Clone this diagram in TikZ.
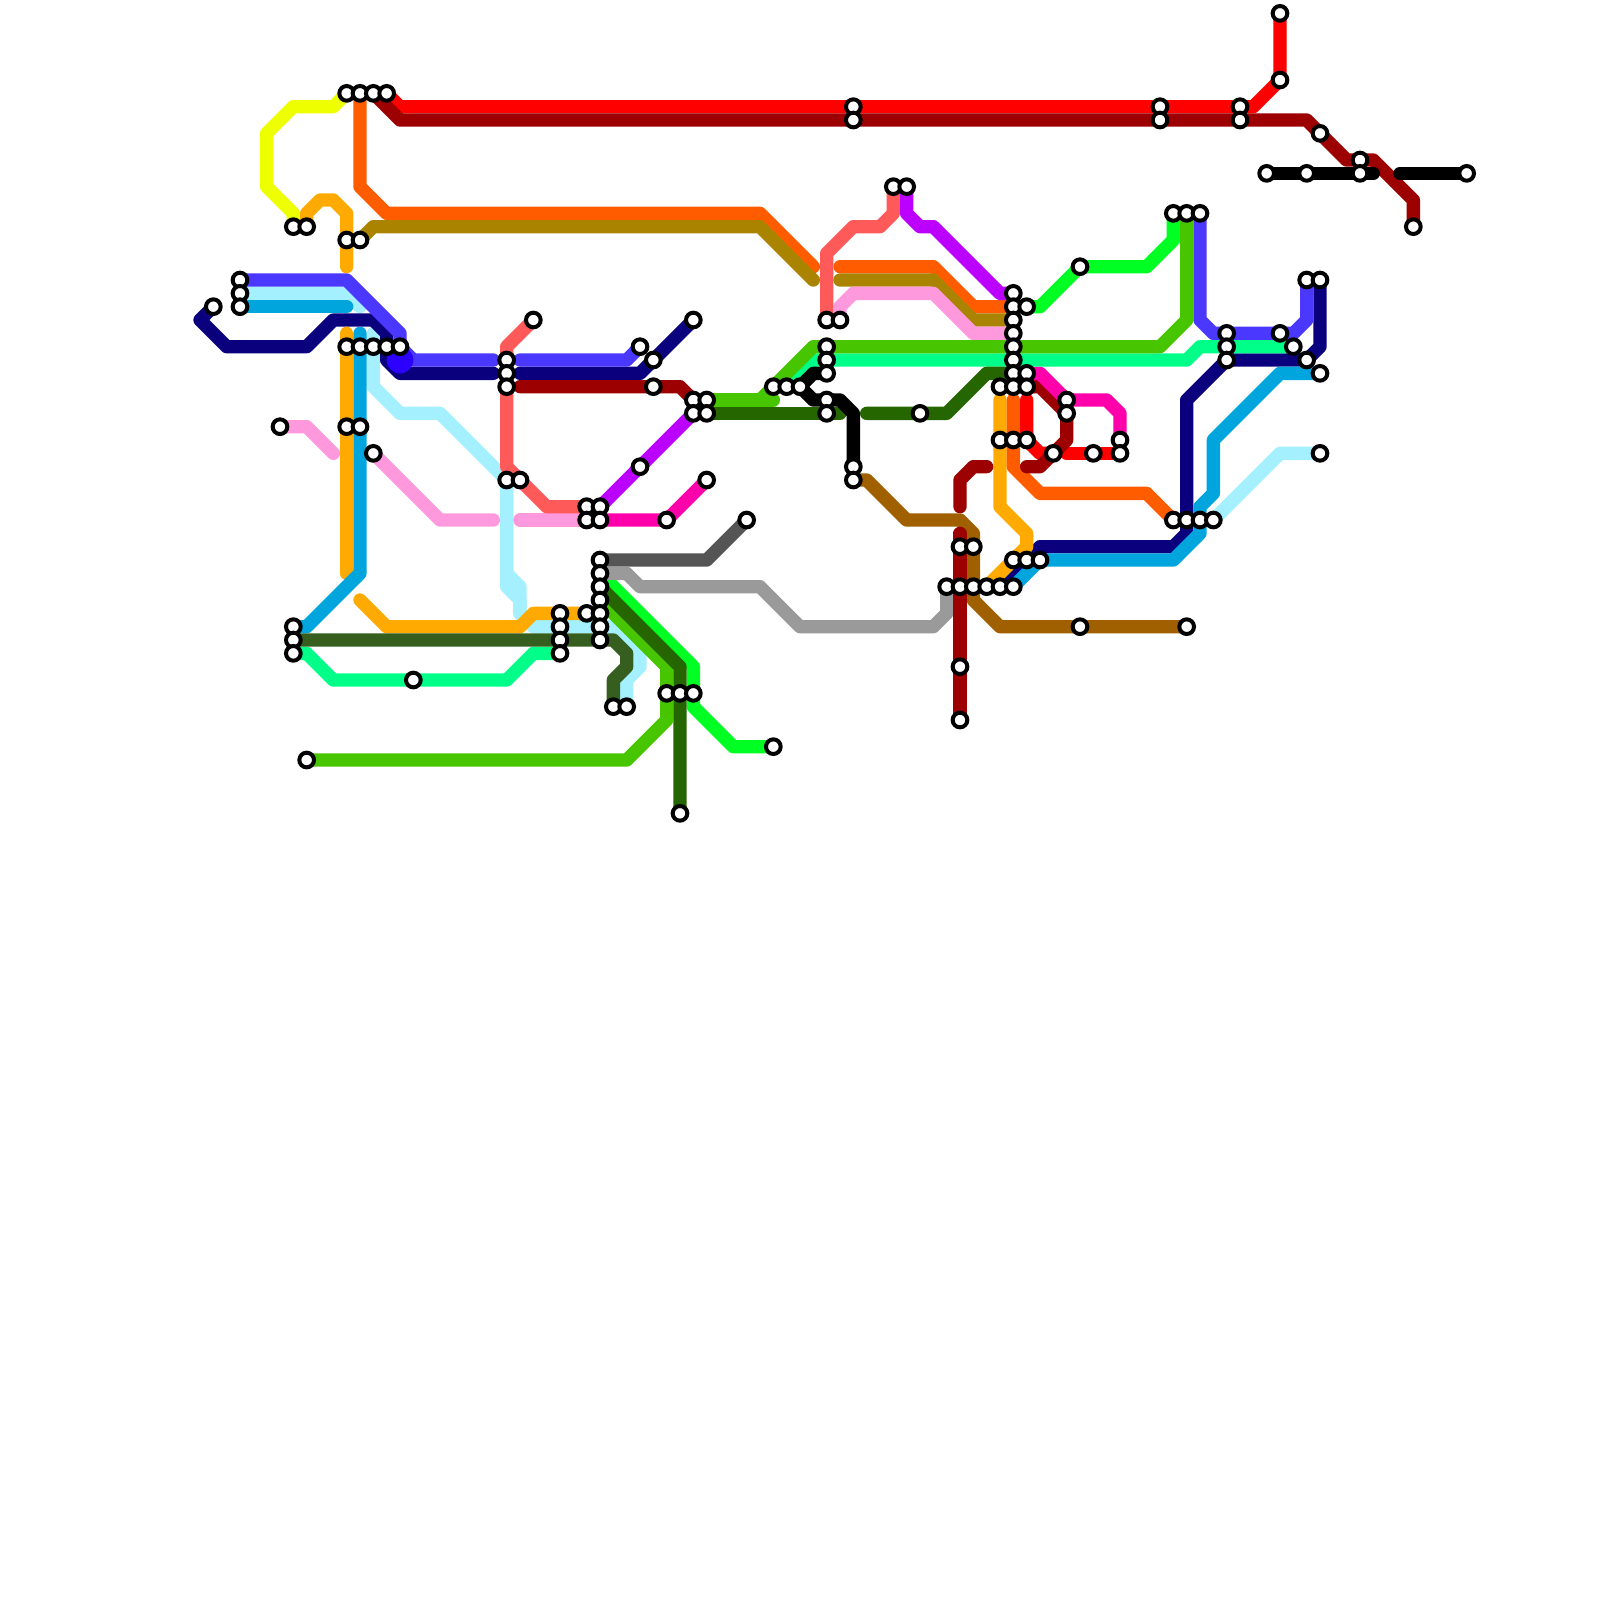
\documentclass[tikz,border=0pt]{standalone}
\usepackage{xcolor}
\usetikzlibrary{backgrounds}
\definecolor{lemon}{HTML}{EEFF00}
\definecolor{amber}{HTML}{FFAA00}
\definecolor{tangerine}{HTML}{FF5C00}
\definecolor{olivebrown}{HTML}{AA8400}
\definecolor{signalred}{HTML}{FF0000}
\definecolor{maroon}{HTML}{9C0000}
\definecolor{indigo}{HTML}{4A38FF}
\definecolor{blobblue}{HTML}{2B00FF}
\definecolor{icecyan}{HTML}{A4F0FF}
\definecolor{skyblue}{HTML}{00A5DE}
\definecolor{navyblue}{HTML}{0A007E}
\definecolor{candy}{HTML}{FF99DD}
\definecolor{coral}{HTML}{FF5A5A}
\definecolor{grape}{HTML}{BB00FF}
\definecolor{fuchsia}{HTML}{FF00AA}
\definecolor{moss}{HTML}{365F1F}
\definecolor{spring}{HTML}{00FF88}
\definecolor{leaf}{HTML}{47C600}
\definecolor{forest}{HTML}{266600}
\definecolor{neon}{HTML}{00FF22}
\definecolor{ashdark}{HTML}{555555}
\definecolor{ash}{HTML}{9A9A9A}
\definecolor{umber}{HTML}{A06000}

\begin{document}
\begin{tikzpicture}[
  x=1mm,y=-1mm,
  stn/.style={circle,draw=black,fill=white,line width=0.3mm,minimum size=1.1mm,inner sep=0pt},
  ln/.style={line width=1mm,line cap=round,line join=round},
  lemonln/.style={ln,draw=lemon},
  amberln/.style={ln,draw=amber},
  tangln/.style={ln,draw=tangerine},
  oliveln/.style={ln,draw=olivebrown},
  redln/.style={ln,draw=signalred},
  maroonln/.style={ln,draw=maroon},
  indigoln/.style={ln,draw=indigo},
  iceln/.style={ln,draw=icecyan},
  skyln/.style={ln,draw=skyblue},
  navyln/.style={ln,draw=navyblue},
  candyln/.style={ln,draw=candy},
  coralln/.style={ln,draw=coral},
  grapeln/.style={ln,draw=grape},
  fuchln/.style={ln,draw=fuchsia},
  mossln/.style={ln,draw=moss},
  springln/.style={ln,draw=spring},
  leafln/.style={ln,draw=leaf},
  forestln/.style={ln,draw=forest},
  neonln/.style={ln,draw=neon},
  ashdln/.style={ln,draw=ashdark},
  ashln/.style={ln,draw=ash},
  umberln/.style={ln,draw=umber},
  blackln/.style={ln,draw=black}
]
\useasboundingbox (0,0) rectangle (120,120);
% stations
\node[stn] (s96y1) at (96,1) {};
\node[stn] (s96y6) at (96,6) {};
\node[stn] (s26y7) at (26,7) {};
\node[stn] (s27y7) at (27,7) {};
\node[stn] (s28y7) at (28,7) {};
\node[stn] (s29y7) at (29,7) {};
\node[stn] (s64y8) at (64,8) {};
\node[stn] (s87y8) at (87,8) {};
\node[stn] (s93y8) at (93,8) {};
\node[stn] (s64y9) at (64,9) {};
\node[stn] (s87y9) at (87,9) {};
\node[stn] (s93y9) at (93,9) {};
\node[stn] (s99y10) at (99,10) {};
\node[stn] (s102y12) at (102,12) {};
\node[stn] (s95y13) at (95,13) {};
\node[stn] (s98y13) at (98,13) {};
\node[stn] (s102y13) at (102,13) {};
\node[stn] (s110y13) at (110,13) {};
\node[stn] (s67y14) at (67,14) {};
\node[stn] (s68y14) at (68,14) {};
\node[stn] (s88y16) at (88,16) {};
\node[stn] (s89y16) at (89,16) {};
\node[stn] (s90y16) at (90,16) {};
\node[stn] (s22y17) at (22,17) {};
\node[stn] (s23y17) at (23,17) {};
\node[stn] (s106y17) at (106,17) {};
\node[stn] (s26y18) at (26,18) {};
\node[stn] (s27y18) at (27,18) {};
\node[stn] (s81y20) at (81,20) {};
\node[stn] (s18y21) at (18,21) {};
\node[stn] (s98y21) at (98,21) {};
\node[stn] (s99y21) at (99,21) {};
\node[stn] (s18y22) at (18,22) {};
\node[stn] (s76y22) at (76,22) {};
\node[stn] (s16y23) at (16,23) {};
\node[stn] (s18y23) at (18,23) {};
\node[stn] (s76y23) at (76,23) {};
\node[stn] (s77y23) at (77,23) {};
\node[stn] (s40y24) at (40,24) {};
\node[stn] (s52y24) at (52,24) {};
\node[stn] (s62y24) at (62,24) {};
\node[stn] (s63y24) at (63,24) {};
\node[stn] (s76y24) at (76,24) {};
\node[stn] (s76y25) at (76,25) {};
\node[stn] (s92y25) at (92,25) {};
\node[stn] (s96y25) at (96,25) {};
\node[stn] (s26y26) at (26,26) {};
\node[stn] (s27y26) at (27,26) {};
\node[stn] (s28y26) at (28,26) {};
\node[stn] (s29y26) at (29,26) {};
\node[stn] (s30y26) at (30,26) {};
\node[stn] (s48y26) at (48,26) {};
\node[stn] (s62y26) at (62,26) {};
\node[stn] (s76y26) at (76,26) {};
\node[stn] (s92y26) at (92,26) {};
\node[stn] (s97y26) at (97,26) {};
\node[stn] (s38y27) at (38,27) {};
\node[stn] (s49y27) at (49,27) {};
\node[stn] (s62y27) at (62,27) {};
\node[stn] (s76y27) at (76,27) {};
\node[stn] (s92y27) at (92,27) {};
\node[stn] (s98y27) at (98,27) {};
\node[stn] (s38y28) at (38,28) {};
\node[stn] (s62y28) at (62,28) {};
\node[stn] (s76y28) at (76,28) {};
\node[stn] (s77y28) at (77,28) {};
\node[stn] (s99y28) at (99,28) {};
\node[stn] (s38y29) at (38,29) {};
\node[stn] (s49y29) at (49,29) {};
\node[stn] (s58y29) at (58,29) {};
\node[stn] (s59y29) at (59,29) {};
\node[stn] (s60y29) at (60,29) {};
\node[stn] (s75y29) at (75,29) {};
\node[stn] (s76y29) at (76,29) {};
\node[stn] (s77y29) at (77,29) {};
\node[stn] (s52y30) at (52,30) {};
\node[stn] (s53y30) at (53,30) {};
\node[stn] (s62y30) at (62,30) {};
\node[stn] (s80y30) at (80,30) {};
\node[stn] (s52y31) at (52,31) {};
\node[stn] (s53y31) at (53,31) {};
\node[stn] (s62y31) at (62,31) {};
\node[stn] (s69y31) at (69,31) {};
\node[stn] (s80y31) at (80,31) {};
\node[stn] (s21y32) at (21,32) {};
\node[stn] (s26y32) at (26,32) {};
\node[stn] (s27y32) at (27,32) {};
\node[stn] (s75y33) at (75,33) {};
\node[stn] (s76y33) at (76,33) {};
\node[stn] (s77y33) at (77,33) {};
\node[stn] (s84y33) at (84,33) {};
\node[stn] (s28y34) at (28,34) {};
\node[stn] (s79y34) at (79,34) {};
\node[stn] (s82y34) at (82,34) {};
\node[stn] (s84y34) at (84,34) {};
\node[stn] (s99y34) at (99,34) {};
\node[stn] (s48y35) at (48,35) {};
\node[stn] (s64y35) at (64,35) {};
\node[stn] (s38y36) at (38,36) {};
\node[stn] (s39y36) at (39,36) {};
\node[stn] (s53y36) at (53,36) {};
\node[stn] (s64y36) at (64,36) {};
\node[stn] (s44y38) at (44,38) {};
\node[stn] (s45y38) at (45,38) {};
\node[stn] (s44y39) at (44,39) {};
\node[stn] (s45y39) at (45,39) {};
\node[stn] (s50y39) at (50,39) {};
\node[stn] (s56y39) at (56,39) {};
\node[stn] (s88y39) at (88,39) {};
\node[stn] (s89y39) at (89,39) {};
\node[stn] (s90y39) at (90,39) {};
\node[stn] (s91y39) at (91,39) {};
\node[stn] (s72y41) at (72,41) {};
\node[stn] (s73y41) at (73,41) {};
\node[stn] (s45y42) at (45,42) {};
\node[stn] (s76y42) at (76,42) {};
\node[stn] (s77y42) at (77,42) {};
\node[stn] (s78y42) at (78,42) {};
\node[stn] (s45y43) at (45,43) {};
\node[stn] (s45y44) at (45,44) {};
\node[stn] (s71y44) at (71,44) {};
\node[stn] (s72y44) at (72,44) {};
\node[stn] (s73y44) at (73,44) {};
\node[stn] (s74y44) at (74,44) {};
\node[stn] (s75y44) at (75,44) {};
\node[stn] (s76y44) at (76,44) {};
\node[stn] (s45y45) at (45,45) {};
\node[stn] (s42y46) at (42,46) {};
\node[stn] (s44y46) at (44,46) {};
\node[stn] (s45y46) at (45,46) {};
\node[stn] (s22y47) at (22,47) {};
\node[stn] (s42y47) at (42,47) {};
\node[stn] (s45y47) at (45,47) {};
\node[stn] (s81y47) at (81,47) {};
\node[stn] (s89y47) at (89,47) {};
\node[stn] (s22y48) at (22,48) {};
\node[stn] (s42y48) at (42,48) {};
\node[stn] (s45y48) at (45,48) {};
\node[stn] (s22y49) at (22,49) {};
\node[stn] (s42y49) at (42,49) {};
\node[stn] (s72y50) at (72,50) {};
\node[stn] (s31y51) at (31,51) {};
\node[stn] (s50y52) at (50,52) {};
\node[stn] (s51y52) at (51,52) {};
\node[stn] (s52y52) at (52,52) {};
\node[stn] (s46y53) at (46,53) {};
\node[stn] (s47y53) at (47,53) {};
\node[stn] (s72y54) at (72,54) {};
\node[stn] (s58y56) at (58,56) {};
\node[stn] (s23y57) at (23,57) {};
\node[stn] (s51y61) at (51,61) {};
% free line ends
\coordinate (e27y23) at (27,23);
\coordinate (e28y25) at (28,25);
\coordinate (e39y46) at (39,46);
\coordinate (e26y20) at (26,20);
\coordinate (e26y25) at (26,25);
\coordinate (e26y43) at (26,43);
\coordinate (e27y25) at (27,25);
\coordinate (e26y23) at (26,23);
\coordinate (e27y45) at (27,45);
\coordinate (e61y20) at (61,20);
\coordinate (e61y21) at (61,21);
\coordinate (e63y20) at (63,20);
\coordinate (e63y21) at (63,21);
\coordinate (e37y27) at (37,27);
\coordinate (e39y27) at (39,27);
\coordinate (e37y28) at (37,28);
\coordinate (e39y28) at (39,28);
\coordinate (e39y29) at (39,29);
\coordinate (e25y34) at (25,34);
\coordinate (e37y39) at (37,39);
\coordinate (e39y39) at (39,39);
\coordinate (e58y30) at (58,30);
\coordinate (e63y31) at (63,31);
\coordinate (e65y31) at (65,31);
\coordinate (e103y13) at (103,13);
\coordinate (e105y13) at (105,13);
\coordinate (e72y40) at (72,40);
\coordinate (e72y38) at (72,38);
\coordinate (e74y35) at (74,35);
\coordinate (e77y35) at (77,35);
\coordinate (e77y30) at (77,30);
\coordinate (e80y34) at (80,34);
\coordinate (e76y30) at (76,30);
\coordinate (e75y30) at (75,30);
\begin{scope}[on background layer]
\draw[iceln] (s18y22.center)-- (26,22)-- (e27y23);
\draw[iceln] (e28y25)-- (28,29)-- (30,31)-- (33,31)-- (s38y36.center);
\draw[iceln] (s38y36.center)-- (38,43)-- (39,44)-- (e39y46);
\draw[iceln] (s38y36.center)-- (38,44)-- (39,45)-- (e39y46);
\draw[iceln] (e39y46)-- (40,47)-- (46,47)-- (48,49)-- (48,50)-- (47,51)-- (s47y53.center);
\draw[iceln] (s91y39.center)-- (96,34)-- (s99y34.center);
\draw[navyln] (s16y23.center)-- (15,24)-- (17,26)-- (23,26)-- (25,24)-- (28,24)-- (29,25)-- (29,27)-- (30,28)-- (e37y28);
\draw[navyln] (e39y28)-- (48,28)-- (s52y24.center);
\draw[navyln] (s99y21.center)-- (99,26)-- (98,27)-- (92,27)-- (89,30)-- (89,40)-- (88,41)-- (78,41)-- (s75y44.center);
\draw[lemonln] (s22y17.center)-- (22,16)-- (20,14)-- (20,10)-- (22,8)-- (25,8)-- (s26y7.center);
\draw[amberln] (s23y17.center)-- (23,16)-- (24,15)-- (25,15)-- (26,16)-- (e26y20);
\draw[amberln] (e26y25)-- (e26y43);
\draw[amberln] (e27y45)-- (29,47)-- (39,47)-- (40,46)-- (s44y46.center);
\draw[amberln] (e75y30)-- (75,38)-- (77,40)-- (77,41)-- (s74y44.center);
\draw[tangln] (s27y7.center)-- (27,14)-- (29,16)-- (57,16)-- (e61y20);
\draw[tangln] (e63y20)-- (70,20)-- (73,23)-- (s76y23.center);
\draw[tangln] (e76y30)-- (76,35)-- (78,37)-- (86,37)-- (s88y39.center);
\draw[oliveln] (s27y18.center)-- (28,17)-- (57,17)-- (e61y21);
\draw[oliveln] (e63y21)-- (70,21)-- (73,24)-- (s76y24.center);
\draw[redln] (s29y7.center)-- (30,8)-- (94,8)-- (s96y6.center)-- (s96y1.center);
\draw[redln] (e77y30)-- (77,33)-- (78,34)-- (s79y34.center);
\draw[redln] (e80y34)-- (s84y34.center);
\draw[skyln] (s18y23.center)-- (e26y23);
\draw[skyln] (e27y25)-- (27,43)-- (23,47)-- (s22y47.center);
\draw[skyln] (s76y44.center)-- (78,42)-- (88,42)-- (90,40)-- (90,38)-- (91,37)-- (91,33)-- (96,28)-- (s99y28.center);
\draw[skyln] (s75y29.center)-- (s76y29.center);
\draw[indigoln] (s18y21.center)-- (26,21)-- (30,25)-- (s30y26.center)-- (31,27)-- (e37y27);
\draw[indigoln] (e39y27)-- (47,27)-- (s48y26.center);
\draw[indigoln] (s90y16.center)-- (90,24)-- (91,25)-- (97,25)-- (98,24)-- (s98y21.center);
\fill[blobblue] (30,27) circle (1);
\draw[candyln] (s21y32.center)-- (23,32)-- (e25y34);
\draw[candyln] (s28y34.center)-- (33,39)-- (e37y39);
\draw[candyln] (e39y39)-- (s44y39.center);
\draw[candyln] (s63y24.center)-- (63,23)-- (64,22)-- (70,22)-- (73,25)-- (s76y25.center);
\draw[coralln] (s40y24.center)-- (38,26)-- (38,35)-- (41,38)-- (s44y38.center);
\draw[coralln] (s62y24.center)-- (62,19)-- (64,17)-- (66,17)-- (67,16)-- (s67y14.center);
\draw[grapeln] (s45y38.center)-- (s52y31.center);
\draw[grapeln] (s68y14.center)-- (68,16)-- (69,17)-- (70,17)-- (75,22)-- (s76y22.center);
\draw[fuchln] (s45y39.center)-- (s50y39.center)-- (s53y36.center);
\draw[maroonln] (s28y7.center)-- (30,9)-- (98,9)-- (101,12)-- (103,12)-- (106,15)-- (s106y17.center);
\draw[maroonln] (e39y29)-- (51,29)-- (s52y30.center);
\draw[maroonln] (e72y38)-- (72,36)-- (73,35)-- (e74y35);
\draw[maroonln] (s77y29.center)-- (78,29)-- (80,31)-- (80,33)-- (78,35)-- (e77y35);
\draw[fuchln] (s77y28.center)-- (78,28)-- (80,30)-- (83,30)-- (84,31)-- (s84y33.center);
\draw[springln] (s22y49.center)-- (23,49)-- (25,51)-- (38,51)-- (40,49)-- (s42y49.center);
\draw[springln] (s59y29.center)-- (61,27)-- (89,27)-- (90,26)-- (s97y26.center);
\draw[neonln] (s45y43.center)-- (52,50)-- (52,53)-- (55,56)-- (s58y56.center);
\draw[neonln] (s77y23.center)-- (78,23)-- (s81y20.center)-- (86,20)-- (88,18)-- (s88y16.center);
\draw[leafln] (s23y57.center)-- (47,57)-- (50,54)-- (50,50)-- (s45y45.center);
\draw[leafln] (s53y30.center)-- (e58y30);
\draw[leafln] (s53y30.center)-- (57,30)-- (61,26)-- (87,26)-- (89,24)-- (s89y16.center);
\draw[forestln] (s45y44.center)-- (51,50)-- (s51y61.center);
\draw[forestln] (s53y31.center)-- (e63y31);
\draw[forestln] (e65y31)-- (71,31)-- (74,28)-- (s76y28.center);
\draw[mossln] (s22y48.center)-- (46,48)-- (47,49)-- (47,50)-- (46,51)-- (s46y53.center);
\draw[ashdln] (s45y42.center)-- (53,42)-- (s56y39.center);
\draw[ashln] (s45y43.center)-- (47,43)-- (48,44)-- (57,44)-- (60,47)-- (70,47)-- (71,46)-- (s71y44.center);
\draw[umberln] (s64y36.center)-- (65,36)-- (68,39)-- (72,39)-- (73,40)-- (73,45)-- (75,47)-- (s89y47.center);
\draw[maroonln] (e72y40)-- (s72y54.center);
\draw[blackln] (s62y28.center)-- (61,28)-- (s60y29.center)-- (61,30)-- (63,30)-- (64,31)-- (s64y35.center);
\draw[blackln] (s95y13.center)-- (e103y13);
\draw[blackln] (e105y13)-- (s110y13.center);
\end{scope}
\end{tikzpicture}
\end{document}
